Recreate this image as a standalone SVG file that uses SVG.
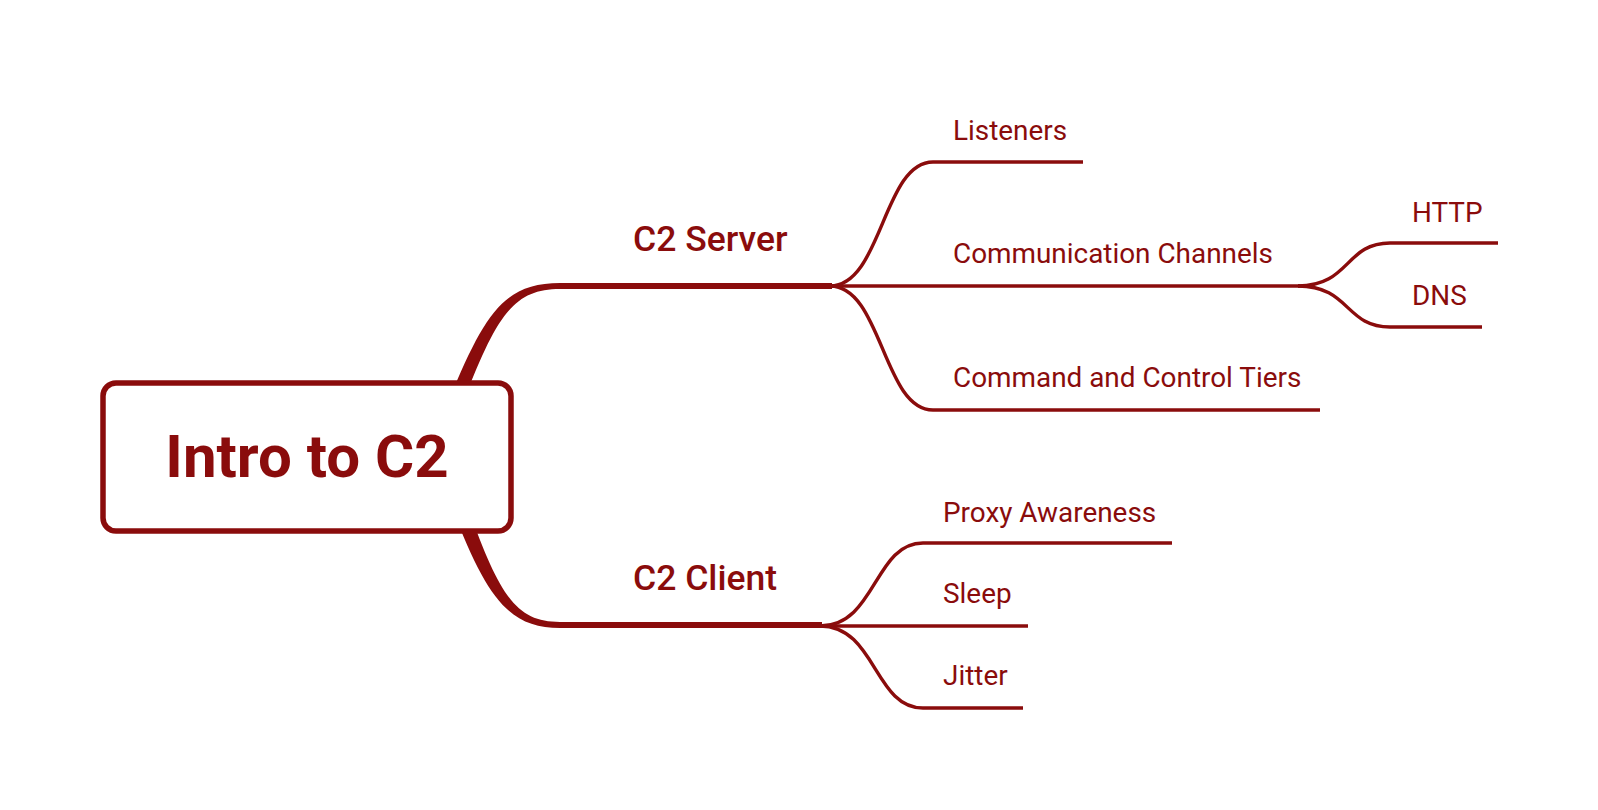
<svg xmlns="http://www.w3.org/2000/svg" width="1598" height="810" viewBox="0 0 1598 810">
  <style>
    .lnk { fill: none; stroke: #8a0c0c; stroke-width: 3.4; stroke-linecap: butt; }
    .main { fill: #8a0c0c; stroke: none; }
    .t { fill: #8a0c0c; font-family: Roboto, "Liberation Sans", sans-serif; }
    .sub { font-size: 27.9px; }
    .mid { font-size: 35.5px; font-weight: 500; }
    .root { font-size: 60px; font-weight: 700; }
  </style>
  <rect width="1598" height="810" fill="#ffffff"/>
  <g id="connectors">
    <path class="main" d="M449,400 C485,312 505,283 560,283 L832,283 L832,289 L560,289 C514,289 497,315 464,400 Z"/>
    <path class="main" d="M451,505 C487,600 510,628 560,628 L822,628 L822,622 L560,622 C517,622 500,598 467,505 Z"/>
    <path class="lnk" d="M830,286 C882,286 883,162 933,162 L1083,162"/>
    <path class="lnk" d="M830,286 L1300,286"/>
    <path class="lnk" d="M830,286 C882,286 883,410 933,410 L1320,410"/>
    <path class="lnk" d="M1298,286 C1350,286 1345,243 1390,243 L1498,243"/>
    <path class="lnk" d="M1298,286 C1350,286 1345,327 1390,327 L1482,327"/>
    <path class="lnk" d="M820,626 C876,626 874,543 923,543 L1172,543"/>
    <path class="lnk" d="M820,626 L1028,626"/>
    <path class="lnk" d="M820,626 C876,626 874,708 923,708 L1023,708"/>
  </g>
  <g id="root">
    <rect x="103" y="383" width="408" height="148" rx="13" fill="#ffffff" stroke="#8a0c0c" stroke-width="5.5"/>
    <text class="t root" x="307" y="477" text-anchor="middle">Intro to C2</text>
  </g>
  <g id="c2server"><text class="t mid" x="633" y="251">C2 Server</text></g>
  <g id="c2client"><text class="t mid" x="633" y="590">C2 Client</text></g>
  <g id="listeners"><text class="t sub" x="953" y="140">Listeners</text></g>
  <g id="commchannels"><text class="t sub" x="953" y="263">Communication Channels</text></g>
  <g id="http"><text class="t sub" x="1412" y="222">HTTP</text></g>
  <g id="dns"><text class="t sub" x="1412" y="305">DNS</text></g>
  <g id="tiers"><text class="t sub" x="953" y="387">Command and Control Tiers</text></g>
  <g id="proxy"><text class="t sub" x="943" y="522">Proxy Awareness</text></g>
  <g id="sleep"><text class="t sub" x="943" y="603">Sleep</text></g>
  <g id="jitter"><text class="t sub" x="943" y="685">Jitter</text></g>
</svg>
